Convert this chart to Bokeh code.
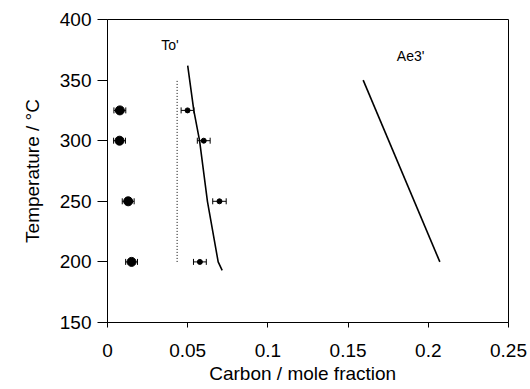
from bokeh.plotting import figure
from bokeh.models import ColumnDataSource, Whisker, TeeHead, Range1d, FixedTicker
from bokeh.core.properties import value
from bokeh.embed import file_html
from bokeh.resources import INLINE

# Data
temps = [325, 300, 250, 200]
carbon_ferrite = [0.0077, 0.0075, 0.0129, 0.0150]
ferrite_err = [0.0037, 0.0037, 0.0037, 0.0037]
carbon_austenite = [0.0499, 0.0600, 0.0698, 0.0576]
austenite_err = [0.0040, 0.0040, 0.0042, 0.0040]

to_line_T = [362, 325, 300, 250, 200, 193]
to_line_x = [0.0500, 0.0538, 0.0574, 0.0623, 0.0690, 0.0715]

t0_dotted_x = [0.0434, 0.0434]
t0_dotted_T = [200, 350]

ae3_x = [0.1594, 0.2072]
ae3_T = [350, 200]

x_ticks = [0, 0.05, 0.1, 0.15, 0.2, 0.25]
y_ticks = [150, 200, 250, 300, 350, 400]

FONT = "Liberation Sans"

p = figure(width=530, height=389, output_backend="svg", toolbar_location=None,
           x_range=Range1d(0, 0.25), y_range=Range1d(150, 400),
           min_border_left=107, min_border_right=22, min_border_top=19, min_border_bottom=67)
p.background_fill_color = "white"
p.border_fill_color = "white"
p.outline_line_color = "black"
p.outline_line_width = 1
p.xgrid.visible = False
p.ygrid.visible = False

for ax in (p.xaxis[0], p.yaxis[0]):
    ax.axis_line_color = "black"
    ax.major_tick_line_color = "black"
    ax.minor_tick_line_color = None
    ax.major_tick_in = 0
    ax.major_tick_out = 5
    ax.major_label_text_font = FONT
    ax.major_label_text_font_size = "19px"
    ax.major_label_text_color = "black"
    ax.axis_label_text_font = FONT
    ax.axis_label_text_font_size = "19px"
    ax.axis_label_text_font_style = "normal"
    ax.axis_label_text_color = "black"

p.xaxis.ticker = FixedTicker(ticks=x_ticks)
p.yaxis.ticker = FixedTicker(ticks=y_ticks)
p.xaxis.major_label_overrides = {0: "0", 0.05: "0.05", 0.1: "0.1", 0.15: "0.15", 0.2: "0.2", 0.25: "0.25"}
p.yaxis[0].major_tick_out = 10
p.yaxis[0].major_label_standoff = 6
p.xaxis[0].major_label_standoff = 16
p.xaxis.axis_label = "Carbon /  mole  fraction"
p.yaxis.axis_label = "Temperature / °C"
p.xaxis.axis_label_standoff = 3
p.yaxis.axis_label_standoff = 14

# error bars
src_f = ColumnDataSource(dict(T=temps, x=carbon_ferrite,
                              lo=[a - e for a, e in zip(carbon_ferrite, ferrite_err)],
                              hi=[a + e for a, e in zip(carbon_ferrite, ferrite_err)]))
src_a = ColumnDataSource(dict(T=temps, x=carbon_austenite,
                              lo=[a - e for a, e in zip(carbon_austenite, austenite_err)],
                              hi=[a + e for a, e in zip(carbon_austenite, austenite_err)]))
for src in (src_f, src_a):
    w = Whisker(source=src, base="T", lower="lo", upper="hi", dimension="width",
                line_color="black", line_width=1,
                upper_head=TeeHead(size=6, line_color="black", line_width=1),
                lower_head=TeeHead(size=6, line_color="black", line_width=1))
    p.add_layout(w)

p.scatter("x", "T", source=src_f, size=9, color="black")
p.scatter("x", "T", source=src_a, size=5, color="black")

p.line(to_line_x, to_line_T, line_color="black", line_width=1.6)
p.line(t0_dotted_x, t0_dotted_T, line_color="black", line_width=1, line_dash="1 2")
p.line(ae3_x, ae3_T, line_color="black", line_width=1.6)

p.text(x=[0.039], y=[378.6], text=["To'"], text_font=value(FONT), text_font_size="14px",
       text_align="center", text_baseline="middle", text_color="black")
p.text(x=[0.189], y=[370], text=["Ae3'"], text_font=value(FONT), text_font_size="14px",
       text_align="center", text_baseline="middle", text_color="black")

open("out.html", "w").write(file_html(p, INLINE))
